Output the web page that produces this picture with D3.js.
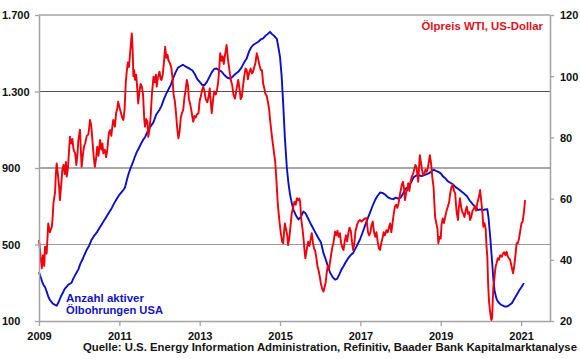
<!DOCTYPE html>
<html><head><meta charset="utf-8">
<script src="https://cdn.jsdelivr.net/npm/d3@7"></script>
<style>
html,body{margin:0;padding:0;background:#fff;}
svg text{font-family:"Liberation Sans",Arial,sans-serif;font-weight:bold;}
</style></head>
<body><svg id="c" width="580" height="359"></svg>
<script>
// ---- data ----
const xTicks = [2009, 2011, 2013, 2015, 2017, 2019, 2021];
const xTickLabels = ["2009", "2011", "2013", "2015", "2017", "2019", "2021"];
const leftTicks = [100, 500, 900, 1300, 1700];
const leftTickLabels = ["100", "500", "900", "1.300", "1.700"];
const rightTicks = [20, 40, 60, 80, 100, 120];
const gridValues = [500, 900, 1300];

// WTI oil price, US-Dollar (right axis) : [decimal year, value]
const wti = [
[2009.00,46.5],[2009.04,41],[2009.07,37.2],[2009.10,41.5],[2009.13,38],[2009.15,44.3],[2009.19,42],[2009.23,51.9],[2009.27,49],[2009.32,50.8],[2009.34,54],[2009.36,58.5],[2009.40,62],[2009.42,68],[2009.44,71.5],[2009.47,68],[2009.50,64],[2009.52,59.5],[2009.55,64],[2009.58,69.3],[2009.61,71],[2009.64,68],[2009.67,72],[2009.69,67.2],[2009.72,70],[2009.75,76],[2009.77,80.2],[2009.80,78],[2009.83,79.5],[2009.86,76],[2009.90,74.8],[2009.93,71],[2009.96,75],[2009.98,79.2],
[2010.02,82.5],[2010.06,70.4],[2010.09,74],[2010.12,77],[2010.15,78.1],[2010.19,80.5],[2010.23,81],[2010.27,85.7],[2010.30,84],[2010.33,79],[2010.36,74],[2010.39,70.4],[2010.42,73],[2010.45,77],[2010.48,74],[2010.52,79.2],[2010.55,76],[2010.58,78],[2010.60,74.8],[2010.64,76],[2010.67,73.5],[2010.70,76],[2010.74,81.5],[2010.77,82.4],[2010.80,80.5],[2010.83,84],[2010.85,85.7],[2010.89,83.5],[2010.92,88],[2010.95,89.5],[2010.97,91.7],
[2011.01,89.5],[2011.04,88],[2011.07,86.5],[2011.10,85.7],[2011.13,89],[2011.16,98],[2011.18,100.9],[2011.21,104.5],[2011.24,103],[2011.27,108],[2011.29,111],[2011.31,114],[2011.33,109],[2011.35,100],[2011.37,102],[2011.39,98.8],[2011.42,100.5],[2011.44,97],[2011.47,91.1],[2011.50,95],[2011.53,97.5],[2011.56,96.6],[2011.59,94],[2011.62,86],[2011.64,83.5],[2011.67,86],[2011.70,85],[2011.72,80.2],[2011.75,82.5],[2011.78,87],[2011.81,94],[2011.85,99.8],[2011.88,98],[2011.91,100.5],[2011.93,96.6],[2011.96,99.5],
[2012.00,101.5],[2012.03,99],[2012.05,98.8],[2012.08,100.5],[2012.11,104.5],[2012.14,109.6],[2012.17,106],[2012.20,107],[2012.22,105.3],[2012.26,104.2],[2012.29,103],[2012.32,100],[2012.35,94],[2012.38,92],[2012.41,88],[2012.44,83],[2012.47,79.7],[2012.50,82],[2012.53,86.5],[2012.56,88],[2012.59,89],[2012.62,93],[2012.65,95.5],[2012.68,98.8],[2012.71,97],[2012.73,92.5],[2012.76,91.1],[2012.79,89],[2012.82,86.5],[2012.84,85.1],[2012.87,87],[2012.90,86.5],[2012.93,87.5],[2012.97,87.9],
[2013.00,92],[2013.03,93.5],[2013.06,95.5],[2013.09,96.6],[2013.12,95],[2013.15,92.5],[2013.19,91.5],[2013.22,93.3],[2013.25,96],[2013.28,91],[2013.30,87.9],[2013.33,92],[2013.36,95],[2013.40,94],[2013.43,95.5],[2013.46,98],[2013.49,103],[2013.51,107.5],[2013.54,105],[2013.57,106.5],[2013.60,104],[2013.63,107],[2013.67,110.2],[2013.70,106],[2013.73,103],[2013.75,100.9],[2013.78,98.5],[2013.81,97],[2013.84,94],[2013.88,92.7],[2013.92,96],[2013.96,98.8],
[2014.00,95],[2014.02,92.5],[2014.05,93.3],[2014.08,97],[2014.11,100],[2014.14,102.5],[2014.17,102],[2014.20,99],[2014.23,101],[2014.27,102.5],[2014.30,100.9],[2014.33,101.5],[2014.36,103],[2014.39,104.5],[2014.42,107.5],[2014.45,106],[2014.48,104],[2014.52,102],[2014.55,102],[2014.58,97.5],[2014.61,96],[2014.63,94.4],[2014.67,93.5],[2014.70,91.5],[2014.73,89],[2014.75,86],[2014.78,82.4],[2014.81,79],[2014.84,76],[2014.88,72],[2014.91,66],[2014.94,59],[2014.96,56],[2014.99,52],
[2015.02,48.7],[2015.05,46],[2015.08,45.4],[2015.10,49],[2015.12,51.9],[2015.15,50],[2015.18,48],[2015.20,44.8],[2015.23,47],[2015.26,51],[2015.29,55],[2015.33,57.4],[2015.36,59],[2015.39,58],[2015.42,60.1],[2015.45,59.5],[2015.48,60],[2015.50,59],[2015.53,53],[2015.56,50],[2015.58,47.6],[2015.61,43],[2015.63,40.5],[2015.66,43],[2015.70,45.9],[2015.73,44.5],[2015.76,46.5],[2015.79,48.7],[2015.82,45.5],[2015.85,43.5],[2015.87,43.2],[2015.90,41],[2015.93,38],[2015.96,36.5],[2015.99,34.5],
[2016.02,32],[2016.05,30.5],[2016.08,29.6],[2016.11,31],[2016.14,33],[2016.16,35.6],[2016.19,38],[2016.22,37],[2016.24,38.9],[2016.27,41.5],[2016.30,44],[2016.33,45.5],[2016.37,49.2],[2016.40,48],[2016.43,49.5],[2016.46,47.5],[2016.49,48.7],[2016.52,45.5],[2016.55,44],[2016.58,43.2],[2016.61,46],[2016.64,48],[2016.67,46],[2016.70,48.7],[2016.73,50.5],[2016.76,49.5],[2016.79,46],[2016.82,43.2],[2016.85,45.5],[2016.88,49.5],[2016.92,51.5],[2016.95,52.5],[2016.99,53],
[2017.03,52.5],[2017.07,53],[2017.11,53.5],[2017.15,53.6],[2017.19,49],[2017.22,48],[2017.25,49],[2017.28,51.5],[2017.31,52.5],[2017.34,49],[2017.37,47.5],[2017.40,49],[2017.43,46],[2017.46,43.8],[2017.49,43.2],[2017.52,45.5],[2017.55,47],[2017.58,49],[2017.61,48],[2017.65,49.7],[2017.68,49],[2017.71,50.5],[2017.74,51.9],[2017.77,49],[2017.80,52],[2017.83,55],[2017.86,57.4],[2017.89,58],[2017.92,57],[2017.95,58.5],[2017.99,61.7],
[2018.03,64.5],[2018.06,65.5],[2018.09,63],[2018.11,59.5],[2018.14,62],[2018.17,63],[2018.19,65],[2018.22,62.5],[2018.25,65.5],[2018.28,67.2],[2018.31,68],[2018.34,69.5],[2018.37,71],[2018.40,70],[2018.42,67.5],[2018.44,65.5],[2018.46,70],[2018.48,74.2],[2018.51,71.5],[2018.54,69],[2018.56,67.7],[2018.59,68],[2018.62,69.5],[2018.65,68.8],[2018.68,70],[2018.71,72.5],[2018.73,74.2],[2018.76,71.5],[2018.79,67],[2018.82,63.9],[2018.84,59],[2018.86,54],[2018.89,51.9],[2018.92,50],[2018.94,45.4],[2018.97,47.5],
[2019.00,47],[2019.02,51.5],[2019.05,53.5],[2019.08,52],[2019.11,54],[2019.15,56.3],[2019.18,57.5],[2019.21,59],[2019.24,62],[2019.27,63.9],[2019.30,64.5],[2019.33,62.5],[2019.36,61.7],[2019.38,58],[2019.40,55.2],[2019.43,53],[2019.45,57],[2019.48,60.1],[2019.51,57],[2019.54,55.5],[2019.56,55.2],[2019.59,54],[2019.62,56],[2019.65,57.4],[2019.68,55],[2019.71,55.5],[2019.73,53],[2019.76,54],[2019.79,56],[2019.81,56.3],[2019.85,57.5],[2019.88,56],[2019.91,58.5],[2019.94,60],[2019.96,61],[2019.98,62.8],
[2020.01,59],[2020.04,55],[2020.06,50.8],[2020.09,52],[2020.12,50],[2020.14,44.3],[2020.16,41],[2020.18,32],[2020.20,26.9],[2020.22,24],[2020.24,22],[2020.26,20.3],[2020.28,21],[2020.29,25],[2020.31,31.2],[2020.33,33],[2020.35,36],[2020.37,38],[2020.39,38.9],[2020.42,40.5],[2020.45,40],[2020.48,41.5],[2020.52,41],[2020.55,42],[2020.58,42.5],[2020.61,41.5],[2020.64,42.6],[2020.67,41],[2020.70,40.5],[2020.73,39.9],[2020.76,38],[2020.80,35.6],[2020.83,38],[2020.86,41.5],[2020.89,45.4],[2020.92,45.5],[2020.95,47],[2020.97,48.7],
[2021.01,51.9],[2021.04,52.5],[2021.07,55.5],[2021.10,59.5]
];

// Active US oil rigs (left axis) : [decimal year, count]
const rigs = [
[2009.00,355],[2009.04,330],[2009.08,305],[2009.12,285],[2009.15,278],[2009.19,255],[2009.23,228],[2009.27,210],[2009.31,200],[2009.35,190],[2009.40,184],[2009.44,180],[2009.48,195],[2009.52,215],[2009.56,235],[2009.60,250],[2009.64,268],[2009.69,280],[2009.73,290],[2009.77,295],[2009.81,300],[2009.85,320],[2009.90,340],[2009.94,355],[2009.98,370],
[2010.03,400],[2010.08,420],[2010.12,440],[2010.19,473],[2010.25,495],[2010.31,525],[2010.37,545],[2010.44,563],[2010.50,585],[2010.56,605],[2010.62,625],[2010.69,649],[2010.75,670],[2010.81,690],[2010.87,715],[2010.93,737],
[2011.00,760],[2011.06,775],[2011.10,785],[2011.14,798],[2011.19,840],[2011.23,870],[2011.27,894],[2011.33,925],[2011.38,955],[2011.43,982],[2011.50,1010],[2011.56,1035],[2011.60,1050],[2011.64,1061],[2011.70,1090],[2011.77,1115],[2011.85,1140],[2011.92,1180],
[2012.00,1205],[2012.05,1225],[2012.10,1255],[2012.16,1285],[2012.22,1310],[2012.28,1335],[2012.34,1370],[2012.40,1400],[2012.46,1425],[2012.52,1432],[2012.58,1440],[2012.64,1432],[2012.70,1425],[2012.76,1418],[2012.82,1410],[2012.88,1390],[2012.94,1365],
[2013.00,1350],[2013.06,1335],[2013.12,1333],[2013.18,1350],[2013.24,1375],[2013.30,1400],[2013.36,1418],[2013.42,1420],[2013.48,1412],[2013.55,1403],[2013.62,1385],[2013.69,1372],[2013.75,1368],[2013.81,1375],[2013.88,1390],[2013.96,1403],
[2014.04,1425],[2014.10,1450],[2014.17,1473],[2014.23,1510],[2014.28,1530],[2014.33,1543],[2014.40,1552],[2014.46,1560],[2014.52,1572],[2014.58,1578],[2014.63,1590],[2014.69,1600],[2014.75,1612],[2014.80,1600],[2014.86,1590],[2014.92,1575],[2014.96,1530],
[2015.00,1480],[2015.04,1380],[2015.08,1230],[2015.12,1060],[2015.17,900],[2015.21,820],[2015.25,760],[2015.29,719],[2015.33,684],[2015.40,650],[2015.46,631],[2015.52,645],[2015.58,672],[2015.63,665],[2015.69,640],[2015.75,614],[2015.81,590],[2015.88,562],[2015.95,535],
[2016.02,510],[2016.08,456],[2016.14,420],[2016.20,380],[2016.25,351],[2016.31,330],[2016.37,316],[2016.42,320],[2016.48,345],[2016.53,370],[2016.58,386],[2016.64,410],[2016.70,430],[2016.76,445],[2016.82,456],[2016.88,480],[2016.94,505],[2016.99,526],
[2017.05,560],[2017.11,595],[2017.17,630],[2017.24,667],[2017.30,700],[2017.36,730],[2017.42,752],[2017.49,772],[2017.55,770],[2017.62,760],[2017.68,748],[2017.75,740],[2017.82,737],[2017.88,745],[2017.94,740],
[2018.00,745],[2018.06,765],[2018.12,790],[2018.18,800],[2018.25,820],[2018.32,850],[2018.38,860],[2018.45,862],[2018.52,858],[2018.58,862],[2018.65,868],[2018.70,872],[2018.76,880],[2018.82,891],[2018.88,885],[2018.94,880],
[2019.00,872],[2019.06,855],[2019.12,845],[2019.18,830],[2019.23,824],[2019.30,815],[2019.37,800],[2019.44,790],[2019.50,780],[2019.57,768],[2019.65,754],[2019.72,730],[2019.80,710],[2019.87,695],[2019.93,680],[2019.98,684],
[2020.05,680],[2020.10,683],[2020.16,684],[2020.19,640],[2020.21,590],[2020.23,543],[2020.26,460],[2020.29,380],[2020.31,316],[2020.34,260],[2020.37,230],[2020.40,210],[2020.45,195],[2020.50,185],[2020.55,180],[2020.60,175],[2020.65,176],[2020.70,182],[2020.77,193],[2020.83,215],[2020.90,240],[2020.96,262],
[2021.02,280],[2021.07,298]
];

// ---- chart ----
const svg = d3.select("#c");
const L = 39, R = 550, T = 15, B = 321;
const x = d3.scaleLinear().domain([2009, 2021.72]).range([L, R]);
const yL = d3.scaleLinear().domain([100, 1700]).range([B, T]);
const yR = d3.scaleLinear().domain([20, 120]).range([B, T]);
const axisColor = "#a3a3a3";

// gridlines
svg.append("g").selectAll("line").data(gridValues).join("line")
  .attr("x1", L).attr("x2", R)
  .attr("y1", d => yL(d)).attr("y2", d => yL(d))
  .attr("stroke", d => d === 500 ? "#9c9c9c" : "#505050")
  .attr("stroke-width", 1.2);

// top border
svg.append("line").attr("x1", L).attr("x2", R).attr("y1", T).attr("y2", T)
  .attr("stroke", axisColor).attr("stroke-width", 1.5);

// lines
const lineRig = d3.line().x(d => x(d[0])).y(d => yL(d[1]));
const lineWti = d3.line().x(d => x(d[0])).y(d => yR(Math.max(20, d[1])));

svg.append("path").datum(rigs).attr("d", lineRig)
  .attr("fill", "none").attr("stroke", "#0a10c8").attr("stroke-width", 1.9)
  .attr("stroke-linejoin", "round");
svg.append("path").datum(wti).attr("d", lineWti)
  .attr("fill", "none").attr("stroke", "#f0000a").attr("stroke-width", 1.9)
  .attr("stroke-linejoin", "round");

// axes
function styleAxis(g) {
  g.select(".domain").attr("stroke", axisColor).attr("stroke-width", 1.5);
  g.selectAll(".tick line").attr("stroke", axisColor).attr("stroke-width", 1.3);
  g.selectAll(".tick text").attr("fill", "#111").attr("font-size", "11px")
    .attr("font-family", "Liberation Sans, Arial, sans-serif").attr("font-weight", "bold");
}
const gl = svg.append("g").attr("transform", `translate(${L},0)`)
  .call(d3.axisLeft(yL).tickValues(leftTicks).tickFormat((d, i) => leftTickLabels[i]).tickSize(4).tickSizeOuter(0))
  .call(styleAxis);
gl.selectAll(".tick text").attr("x", -37).attr("text-anchor", "start").attr("dy", "0.36em");

const gr = svg.append("g").attr("transform", `translate(${R},0)`)
  .call(d3.axisRight(yR).tickValues(rightTicks).tickSize(4).tickSizeOuter(0))
  .call(styleAxis);
gr.selectAll(".tick text").attr("x", 10).attr("text-anchor", "start").attr("dy", "0.36em");

const gb = svg.append("g").attr("transform", `translate(0,${B})`)
  .call(d3.axisBottom(x).tickValues(xTicks).tickFormat((d, i) => xTickLabels[i]).tickSize(5).tickSizeOuter(0))
  .call(styleAxis);
gb.selectAll(".tick text").attr("y", 11).attr("dy", "0.72em");

// labels
svg.append("text").attr("x", 543).attr("y", 30).attr("text-anchor", "end")
  .attr("font-size", "11.4px").attr("fill", "#e3101c").text("Ölpreis WTI, US-Dollar");
svg.append("text").attr("x", 66).attr("y", 302).attr("font-size", "11.5px").attr("fill", "#1414c8")
  .attr("textLength", 78).attr("lengthAdjust", "spacingAndGlyphs").text("Anzahl aktiver");
svg.append("text").attr("x", 66).attr("y", 313.5).attr("font-size", "11.5px").attr("fill", "#1414c8")
  .attr("textLength", 97).attr("lengthAdjust", "spacingAndGlyphs").text("Ölbohrungen USA");
svg.append("text").attr("x", 83).attr("y", 351).attr("font-size", "11px").attr("fill", "#151515")
  .attr("textLength", 494).attr("lengthAdjust", "spacingAndGlyphs")
  .text("Quelle: U.S. Energy Information Administration, Refinitiv, Baader Bank Kapitalmarktanalyse");
</script></body></html>
